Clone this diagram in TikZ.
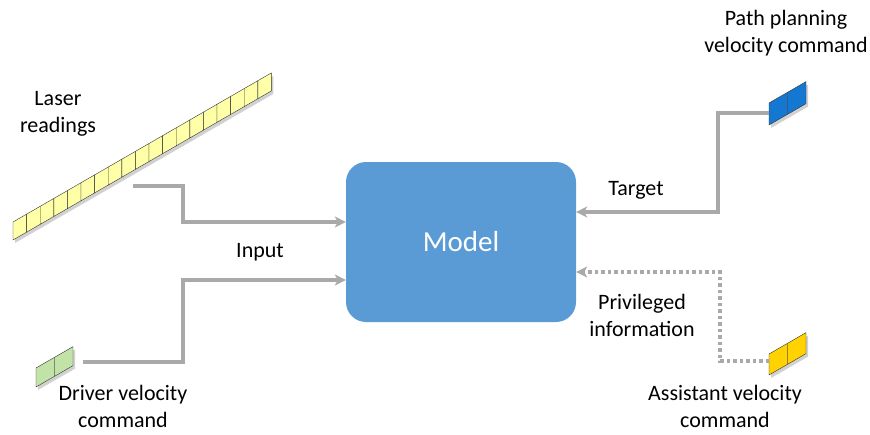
\documentclass[tikz,border=0pt]{standalone}
\usepackage{fontspec}
\setmainfont{Carlito}
\usepackage{tikz}
\usetikzlibrary{positioning, calc, arrows.meta}

\definecolor{modelblue}{HTML}{5B9BD5}
\definecolor{flowgray}{HTML}{A9A9A9}
\definecolor{laseryellow}{HTML}{FFFFA8}
\definecolor{drvgreen}{HTML}{C2E3A8}
\definecolor{pathblue}{HTML}{1478D2}
\definecolor{asstyellow}{HTML}{FFD200}

% row of slanted cells: #1 = left x, #2 = bottom y, #3 = count,
% #4 = cell width, #5 = cell height, #6 = fill
\newcommand{\slantcells}[6]{%
	\foreach \i in {1,...,#3}{
		\pgfmathsetmacro{\xa}{#1+(\i-1)*#4}
		\pgfmathsetmacro{\ya}{#2-(\i-1)*#4*0.577}
		\fill[black,opacity=0.18] (\xa+2,\ya+3) -- ++(#4,-#4*0.577) -- ++(0,-#5) -- ++(-#4,#4*0.577) -- cycle;
		\filldraw[fill=#6,draw=black!80,thin] (\xa,\ya) -- ++(#4,-#4*0.577) -- ++(0,-#5) -- ++(-#4,#4*0.577) -- cycle;
	}
}

\begin{document}
\begin{tikzpicture}[
	x=1pt, y=-1pt,
	font=\fontsize{22}{27}\selectfont,
	model/.style={rectangle, rounded corners=20pt, fill=modelblue, text=white,
		minimum width=230pt, minimum height=160pt, font=\fontsize{29}{34}\selectfont},
	label/.style={align=center, inner sep=0pt},
	flow/.style={draw=flowgray, line width=3.5pt, -{Stealth[length=11pt,width=11pt,inset=3pt]}},
	privflow/.style={flow, dash pattern=on 3.5pt off 3pt}
	]
	\useasboundingbox (0,0) rectangle (870,434);

	\node[model] (model) at (461,242) {Model};

	% inputs on the left
	\slantcells{13}{240}{19}{13.6}{18}{laseryellow}
	\slantcells{36}{387}{2}{18.5}{19}{drvgreen}
	\coordinate (laser) at (133,186);
	\coordinate (driver) at (83,362);

	\node[label] (laserlbl) at (58,114) {Laser\\readings};
	\node[label] (driverlbl) at (123,406) {Driver velocity\\command};
	\node[label] (inputlbl) at (260,252) {Input};

	\draw[flow] (laser) -- ++(50,0) |- ([yshift=20pt]model.west);
	\draw[flow] (driver) -- ++(100,0) |- ([yshift=-38pt]model.west);

	% commands on the right
	\slantcells{769}{125}{2}{18.5}{22}{pathblue}
	\slantcells{769}{375}{2}{18.5}{21}{asstyellow}
	\coordinate (path) at (769,113);
	\coordinate (asst) at (769,361);

	\node[label] (pathlbl) at (786,33) {Path planning\\velocity command};
	\node[label] (asstlbl) at (725,406) {Assistant velocity\\command};
	\node[label] (targetlbl) at (636,190) {Target};
	\node[label] (privlbl) at (642,315) {Privileged\\information};

	\draw[flow] (path) -- ++(-51,0) |- ([yshift=30pt]model.east);
	\draw[privflow] (asst) -- ++(-49,0) |- ([yshift=-30pt]model.east);

\end{tikzpicture}
\end{document}
